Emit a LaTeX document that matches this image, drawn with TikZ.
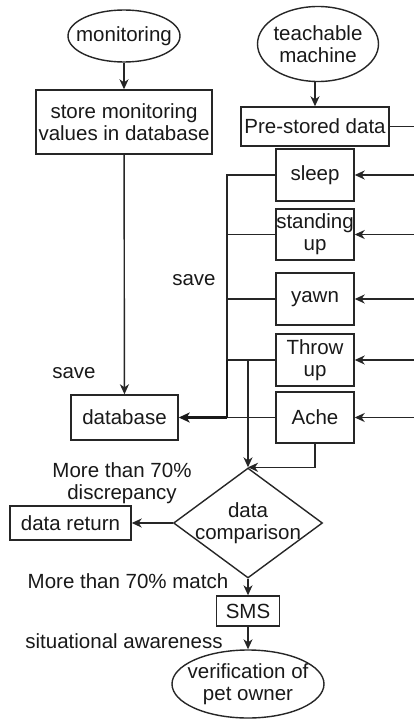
\documentclass[tikz,border=0pt]{standalone}
\usepackage{fontspec}
\setmainfont{Liberation Sans}
\usetikzlibrary{shapes.geometric,arrows.meta}
\begin{document}
\begin{tikzpicture}[x=1pt,y=-1pt,
  every node/.style={font=\fontsize{20.5}{22}\selectfont, inner sep=0pt, align=center, text=black!90},
  box/.style={draw=black!85, line width=1.4pt, rectangle},
  oval/.style={draw=black!85, line width=1.4pt, ellipse},
  dia/.style={draw=black!85, line width=1.4pt, diamond},
  conn/.style={draw=black!85, line width=1.4pt},
  busline/.style={draw=black!90, line width=2.2pt},
  arr/.style={conn, -{Stealth[length=10pt,width=9pt,inset=3pt]}},
]
\useasboundingbox (0,0) rectangle (414,720);
\fill[white] (0,0) rectangle (414,720);

% nodes
\node[oval, minimum width=112pt, minimum height=52pt, label=center:{monitoring}] (mon) at (124,36) {};
\node[oval, minimum width=121pt, minimum height=75pt, label=center:{teachable\\machine}] (tm) at (318,44) {};
\node[box, minimum width=176pt, minimum height=64pt] (store) at (124,122) {store monitoring\\values in database};
\node[box, minimum width=148pt, minimum height=39pt] (pre) at (315,126.5) {Pre-stored data};
\node[box, minimum width=78pt, minimum height=52pt] (sleep) at (315,175) {sleep};
\node[box, minimum width=78pt, minimum height=51pt] (stand) at (315,234.5) {standing\\up};
\node[box, minimum width=78pt, minimum height=52pt] (yawn) at (315,299) {yawn};
\node[box, minimum width=78pt, minimum height=52pt] (throw) at (315,360) {Throw\\up};
\node[box, minimum width=78pt, minimum height=51pt] (ache) at (315,417.5) {Ache};
\node[box, minimum width=107pt, minimum height=45pt] (db) at (124.5,417.5) {database};
\node[dia, minimum width=149pt, minimum height=110pt, label=center:{data\\comparison}] (cmp) at (248,523) {};
\node[box, minimum width=121pt, minimum height=34pt] (dret) at (70.5,523) {data return};
\node[box, minimum width=63pt, minimum height=30pt] (sms) at (248,611) {SMS};
\node[oval, minimum width=152pt, minimum height=68pt, label=center:{verification of\\pet owner}] (ver) at (248,684) {};

% labels
\node (save1) at (74,373) {save};
\node (save2) at (194,280) {save};
\node (disc) at (122,483) {More than 70\%\\discrepancy};
\node (match) at (128,581) {More than 70\% match};
\node (aware) at (124,641) {situational awareness};

% coordinates
\coordinate (busx) at (227,0);
\coordinate (rbx) at (414.3,0);
\coordinate (rt) at (pre -| rbx);
\coordinate (rb) at (ache -| rbx);

% left column
\draw[arr] (mon) -- (store);
\draw[arr] (store) -- (db);

% teachable machine
\draw[arr] (pre.north |- tm.south) -- (pre.north);
\draw[conn, draw=black!45] (pre.east) -- (rt) -- (rb);
\draw[conn] (pre.east) -- (rt);
\draw[arr] (sleep -| rbx) -- (sleep);
\draw[arr] (stand -| rbx) -- (stand);
\draw[arr] (yawn -| rbx) -- (yawn);
\draw[arr] (throw -| rbx) -- (throw);
\draw[arr] (ache -| rbx) -- (ache);

% save bus
\draw[conn] (sleep) -- (sleep -| busx) -- (throw -| busx);
\draw[conn] (stand) -- (stand -| busx);
\draw[conn] (yawn) -- (yawn -| busx);
\draw[conn] (throw) -- (throw -| busx);
\draw[conn] (ache) -- (ache -| busx);
\draw[busline] (throw -| busx) -- (db -| busx);
\draw[busline, -{Stealth[length=11pt,width=10pt,inset=3pt]}] (db -| busx) -- (db);

% to comparison
\draw[arr] (throw -| cmp) -- (cmp.north);
\draw[arr] (ache.south) -- (ache.south |- cmp.north) -- (cmp.north);
\draw[arr] (cmp.west) -- (dret.east);
\draw[arr] (cmp.south) -- (sms.north);
\draw[arr] (sms) -- (ver);
\end{tikzpicture}
\end{document}
